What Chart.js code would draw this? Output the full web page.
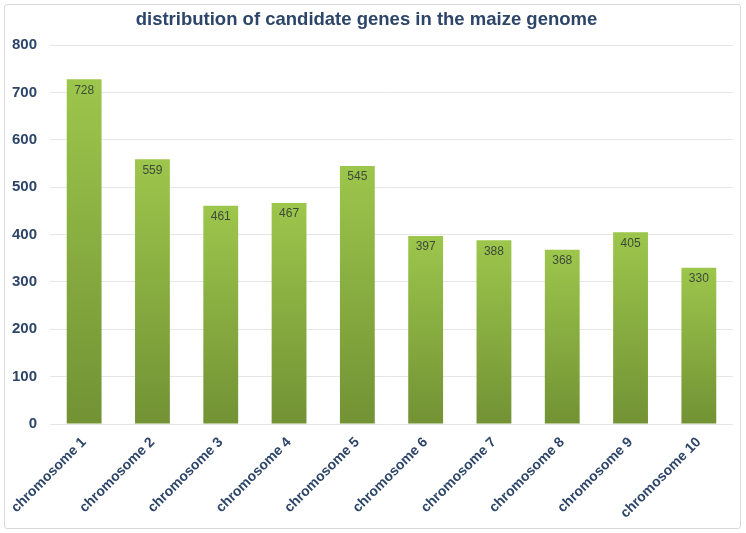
<!DOCTYPE html>
<html>
<head>
<meta charset="utf-8">
<script src="https://cdn.jsdelivr.net/npm/chart.js@4.4.1/dist/chart.umd.min.js"></script>
<style>
  html, body { margin: 0; padding: 0; background: #fff; }
  #wrap { position: relative; width: 746px; height: 533px; }
  #frame { position: absolute; left: 4px; top: 4px; width: 735px; height: 523px;
           border: 1px solid #d9d9d9; border-radius: 3px; }
  canvas { position: absolute; left: 0; top: 0; }
</style>
</head>
<body>
<div id="wrap">
  <div id="frame"></div>
  <canvas id="genes__chart" width="746" height="533"></canvas>
</div>
<script>
// values
const chromosomes = ['chromosome 1', 'chromosome 2', 'chromosome 3', 'chromosome 4', 'chromosome 5',
                     'chromosome 6', 'chromosome 7', 'chromosome 8', 'chromosome 9', 'chromosome 10'];
const geneCounts = [728, 559, 461, 467, 545, 397, 388, 368, 405, 330];
const yTicks = [0, 100, 200, 300, 400, 500, 600, 700, 800];

const navy = '#2d4569';

// each bar gets its own light-to-dark green fade
function barGradient(context) {
    const chart = context.chart;
    if (!chart.chartArea || context.parsed === undefined) return '#8db443';
    const y = chart.scales.y;
    const top = y.getPixelForValue(context.parsed.y);
    const base = y.getPixelForValue(0);
    const g = chart.ctx.createLinearGradient(0, top, 0, base);
    g.addColorStop(0, '#9dc64c');
    g.addColorStop(1, '#729234');
    return g;
}

// value labels just inside the top of each bar
const valueLabels = {
    id: 'valueLabels',
    afterDatasetsDraw(chart) {
        const ctx = chart.ctx;
        const meta = chart.getDatasetMeta(0);
        ctx.save();
        ctx.font = '12px "Liberation Sans", Arial, sans-serif';
        ctx.fillStyle = '#3d4a3a';
        ctx.textAlign = 'center';
        ctx.textBaseline = 'middle';
        meta.data.forEach((bar, i) => {
            ctx.fillText(String(geneCounts[i]), bar.x, bar.y + 11);
        });
        ctx.restore();
    }
};

const ctx = document.getElementById('genes__chart').getContext('2d');
const genesChart = new Chart(ctx, {
    type: 'bar',
    data: {
        labels: chromosomes,
        datasets: [{
            data: geneCounts,
            backgroundColor: barGradient,
            borderWidth: 0,
            barPercentage: 0.51,
            categoryPercentage: 1
        }]
    },
    options: {
        responsive: false,
        animation: false,
        layout: { padding: { left: 0, right: 13, top: 0, bottom: 0 } },
        plugins: {
            legend: { display: false },
            tooltip: { enabled: false },
            title: {
                display: true,
                text: 'distribution of candidate genes in the maize genome',
                color: navy,
                font: { family: '"Liberation Sans", Arial, sans-serif', size: 18.5, weight: 'bold' },
                padding: { top: 9, bottom: 14 }
            }
        },
        scales: {
            x: {
                grid: { display: false, drawTicks: false },
                border: { display: false },
                ticks: {
                    color: navy,
                    font: { family: '"Liberation Sans", Arial, sans-serif', size: 14, weight: 'bold' },
                    minRotation: 45,
                    maxRotation: 45,
                    padding: 10
                },
                afterFit(scale) { scale.height = 109; }
            },
            y: {
                min: 0,
                max: 800,
                afterBuildTicks(scale) { scale.ticks = yTicks.map(v => ({ value: v })); },
                grid: { color: '#e6e6e6', drawTicks: false, lineWidth: 1 },
                border: { display: false },
                ticks: {
                    color: navy,
                    font: { family: '"Liberation Sans", Arial, sans-serif', size: 15, weight: 'bold' },
                    padding: 13
                },
                afterFit(scale) { scale.width = 50; }
            }
        }
    },
    plugins: [valueLabels]
});
</script>
</body>
</html>
